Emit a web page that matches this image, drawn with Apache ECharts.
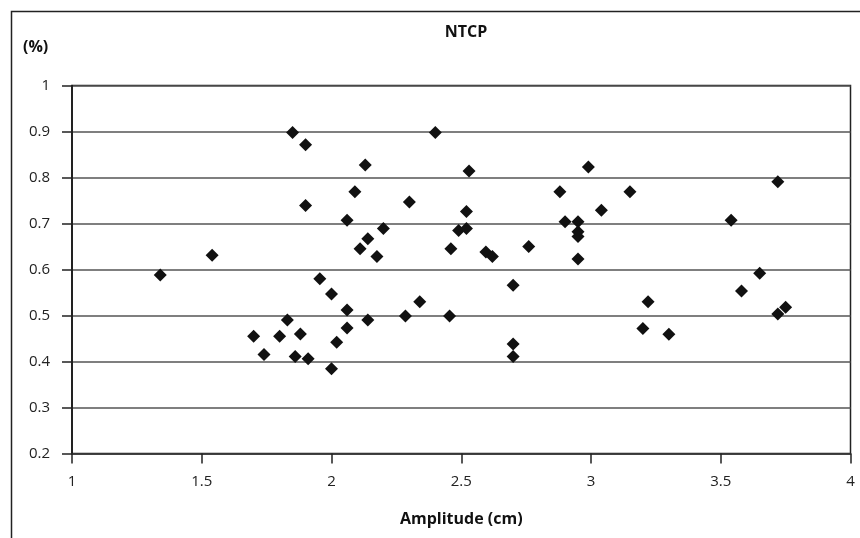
<!DOCTYPE html>
<html>
<head>
<meta charset="utf-8">
<script src="https://cdn.jsdelivr.net/npm/echarts@6/dist/echarts.min.js"></script>
<style>
html,body{margin:0;padding:0;background:#fff;}
#chart{width:860px;height:538px;}
</style>
</head>
<body>
<div id="chart"></div>
<script>
var chartTitle = 'NTCP';
var xAxisTitle = 'Amplitude (cm)';
var yAxisTitle = '(%)';
var xTicks = [1, 1.5, 2, 2.5, 3, 3.5, 4];
var yTicks = [0.2, 0.3, 0.4, 0.5, 0.6, 0.7, 0.8, 0.9, 1];

var amplitude = [1.34, 1.54, 1.70, 1.74, 1.80, 1.83, 1.85, 1.86, 1.88, 1.90,
  1.90, 1.91, 1.955, 2.00, 2.00, 2.02, 2.06, 2.06, 2.06, 2.09,
  2.11, 2.13, 2.14, 2.14, 2.175, 2.20, 2.285, 2.30, 2.34, 2.40,
  2.455, 2.46, 2.49, 2.52, 2.52, 2.53, 2.595, 2.62, 2.70, 2.70,
  2.70, 2.76, 2.88, 2.90, 2.95, 2.95, 2.95, 2.95, 2.99, 3.04,
  3.15, 3.20, 3.22, 3.30, 3.54, 3.58, 3.65, 3.72, 3.72, 3.75];
var ntcp = [0.588, 0.631, 0.455, 0.415, 0.455, 0.490, 0.898, 0.411, 0.460, 0.871,
  0.739, 0.406, 0.580, 0.547, 0.384, 0.442, 0.707, 0.512, 0.473, 0.769,
  0.645, 0.827, 0.667, 0.490, 0.628, 0.689, 0.499, 0.747, 0.530, 0.898,
  0.499, 0.645, 0.685, 0.689, 0.726, 0.814, 0.638, 0.628, 0.566, 0.438,
  0.411, 0.650, 0.769, 0.704, 0.704, 0.682, 0.672, 0.623, 0.823, 0.729,
  0.769, 0.472, 0.530, 0.459, 0.707, 0.553, 0.592, 0.791, 0.503, 0.518];

var points = amplitude.map(function (x, i) { return [x, ntcp[i]]; });
var FONT = '"Open Sans", "Noto Sans", sans-serif';

var chart = echarts.init(document.getElementById('chart'), null, {renderer: 'canvas'});
chart.setOption({
  animation: false,
  backgroundColor: '#fff',
  title: {
    text: chartTitle, left: 461, top: 19, textAlign: 'center',
    textStyle: {fontFamily: FONT, fontSize: 16, fontWeight: 'bold', color: '#111'}
  },
  graphic: [
    {type: 'rect', left: 9, top: 9, shape: {width: 900, height: 600},
     style: {fill: 'none', stroke: '#222', lineWidth: 1.5}, silent: true},
    {type: 'text', left: 23, top: 39,
     style: {text: yAxisTitle, font: 'bold 16px ' + FONT, fill: '#111'}}
  ],
  grid: {left: 72, right: 9.5, top: 85.5, bottom: 84.5, show: true,
         borderColor: '#222', borderWidth: 1.5},
  xAxis: {
    type: 'value', min: xTicks[0], max: xTicks[xTicks.length - 1], interval: 0.5,
    name: xAxisTitle, nameLocation: 'middle', nameGap: 58,
    nameTextStyle: {fontFamily: FONT, fontSize: 16, fontWeight: 'bold', color: '#111'},
    axisLine: {show: true, lineStyle: {color: '#333', width: 1.5}},
    axisTick: {show: true, length: 10, lineStyle: {color: '#222', width: 1.5}},
    axisLabel: {fontFamily: FONT, fontSize: 15, color: '#222', margin: 21,
                formatter: function (v) { return String(v); }},
    splitLine: {show: false}
  },
  yAxis: {
    type: 'value', min: yTicks[0], max: yTicks[yTicks.length - 1], interval: 0.1,
    axisLine: {show: true, lineStyle: {color: '#111', width: 1.5}},
    axisTick: {show: true, length: 10, lineStyle: {color: '#222', width: 1.5}},
    axisLabel: {fontFamily: FONT, fontSize: 15, color: '#222', margin: 22,
                formatter: function (v) { return String(Math.round(v * 10) / 10); }},
    splitLine: {show: true, lineStyle: {color: '#555', width: 1.5}}
  },
  series: [{
    type: 'scatter', data: points, symbol: 'diamond', symbolSize: [13, 13],
    itemStyle: {color: '#111', opacity: 1}
  }]
});
</script>
</body>
</html>
